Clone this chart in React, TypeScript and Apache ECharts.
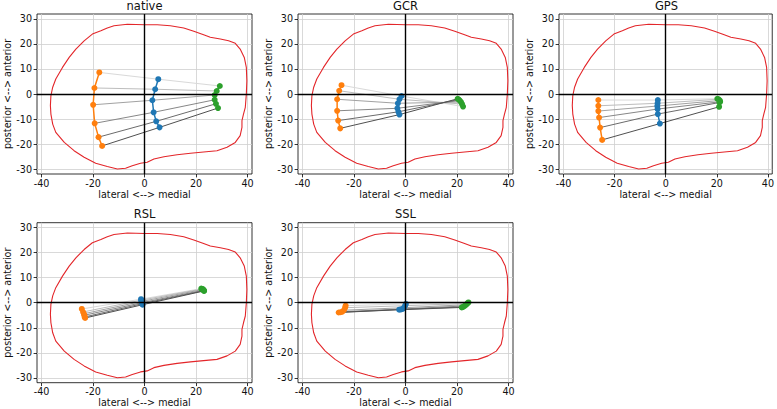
import React, { useEffect, useRef } from 'react';
import * as echarts from 'echarts';

type Pt = [number, number];

const panelTitles = ['native', 'GCR', 'GPS', 'RSL', 'SSL'];
const xTicks = [-40, -20, 0, 20, 40];
const yTicks = [-30, -20, -10, 0, 10, 20, 30];
const greyShades = ['#d9d9d9', '#bdbdbd', '#a2a2a2', '#878787', '#6b6b6b', '#505050'];

const outline: Pt[] = [
  [0, 27.6], [-6.7, 27.8], [-11.9, 27.2], [-14.5, 26.3], [-17.0, 25.2], [-20.3, 23.9],
  [-23.5, 21.2], [-26.7, 17.9], [-29.3, 14.6], [-31.9, 10.6], [-34.5, 6.0], [-35.7, 2.7],
  [-36.4, -0.7], [-36.6, -4.6], [-36.4, -8.0], [-35.7, -12.0], [-34.5, -15.3], [-31.2, -19.3],
  [-27.4, -22.6], [-23.5, -25.2], [-19.0, -27.6], [-14.5, -28.9], [-10.6, -29.9], [-7.4, -29.6],
  [-4.8, -28.6], [-1.6, -27.6], [1.0, -27.2], [3.6, -25.9], [7.5, -25.0], [12.6, -24.2],
  [17.8, -23.6], [22.9, -23.1], [28.1, -22.6], [32.0, -21.2], [35.2, -19.3], [37.1, -16.6],
  [37.8, -13.3], [37.8, -10.6], [38.4, -8.0], [39.1, -5.3], [39.5, 0], [39.7, 5.3],
  [39.5, 10.6], [38.7, 14.6], [37.1, 17.9], [35.2, 20.2], [32.6, 21.2], [29.4, 21.9],
  [25.5, 22.6], [22.9, 23.6], [19.1, 25.0], [15.2, 26.3], [10.0, 27.2], [4.9, 27.6], [0, 27.6],
];

const nativeOrange: Pt[] = [[-17.6, 8.6], [-19.5, 2.4], [-20.0, -4.3], [-19.4, -11.7], [-17.9, -17.2], [-16.5, -20.7]];
const nativeBlue: Pt[] = [[5.3, 5.9], [4.1, 1.9], [3.0, -2.5], [3.5, -7.3], [4.5, -10.9], [5.8, -13.3]];
const nativeGreen: Pt[] = [[29.2, 3.2], [28.0, 1.2], [27.2, -0.4], [27.2, -2.3], [27.7, -3.9], [28.5, -5.6]];

const gcrOrange: Pt[] = [[-24.9, 3.5], [-25.8, 1.3], [-26.6, -2.1], [-26.6, -6.7], [-26.2, -10.6], [-25.4, -13.7]];
const gcrBlue: Pt[] = [[-1.6, -0.8], [-2.4, -2.1], [-3.0, -3.7], [-3.2, -5.7], [-2.8, -7.1], [-2.4, -8.2]];
const gcrGreen: Pt[] = [[22.3, -5.0], [21.9, -4.0], [21.5, -3.2], [21.0, -2.6], [20.6, -2.2], [20.2, -1.9]];

const gpsOrange: Pt[] = [[-26.4, -2.4], [-26.4, -4.7], [-26.4, -6.8], [-26.1, -9.4], [-25.7, -13.4], [-24.9, -18.3]];
const gpsBlue: Pt[] = [[-3.1, -2.4], [-3.2, -3.7], [-3.3, -4.8], [-3.2, -6.0], [-3.1, -8.0], [-2.3, -11.8]];
const gpsGreen: Pt[] = [[20.2, -1.9], [20.7, -2.1], [21.2, -2.6], [21.3, -3.1], [21.0, -3.4], [20.9, -5.1]];

const rslOrange: Pt[] = [[-24.4, -2.5], [-23.9, -3.7], [-23.6, -4.4], [-23.4, -5.0], [-23.3, -5.7], [-23.1, -6.1]];
const rslBlue: Pt[] = [[-1.4, 1.4], [-1.3, 1.0], [-1.2, 0.5], [-1.0, 0.0], [-0.9, -0.4], [-0.8, -0.8]];
const rslGreen: Pt[] = [[22.0, 5.6], [22.4, 5.5], [22.7, 5.3], [22.9, 5.0], [23.0, 4.8], [23.1, 4.7]];

const sslOrange: Pt[] = [[-23.3, -1.2], [-23.5, -2.0], [-24.0, -3.0], [-24.6, -3.6], [-25.3, -3.8], [-26.0, -3.9]];
const sslBlue: Pt[] = [[0.1, -0.5], [-0.2, -1.2], [-0.6, -2.0], [-1.2, -2.5], [-1.8, -2.7], [-2.5, -2.8]];
const sslGreen: Pt[] = [[24.4, 0.1], [24.0, -0.3], [23.5, -0.8], [22.9, -1.3], [22.3, -1.7], [21.8, -1.9]];

const panels = [
  { orange: nativeOrange, blue: nativeBlue, green: nativeGreen },
  { orange: gcrOrange, blue: gcrBlue, green: gcrGreen },
  { orange: gpsOrange, blue: gpsBlue, green: gpsGreen },
  { orange: rslOrange, blue: rslBlue, green: rslGreen },
  { orange: sslOrange, blue: sslBlue, green: sslGreen },
];

const FONT = 'DejaVu Sans';
const gridLefts = [37, 298, 559, 37, 298];
const gridTops = [14, 14, 14, 222.7, 222.7];
const GW = 215;
const GH = 160;

export default function App() {
  const ref = useRef<HTMLDivElement>(null);
  useEffect(() => {
    if (!ref.current) return;
    const chart = echarts.init(ref.current, undefined, { renderer: 'svg' });
    const grid: any[] = [];
    const xAxis: any[] = [];
    const yAxis: any[] = [];
    const series: any[] = [];
    const graphic: any[] = [];
    panels.forEach((p, i) => {
      grid.push({
        left: gridLefts[i], top: gridTops[i], width: GW, height: GH,
        show: true, borderColor: '#000', borderWidth: 0.8, backgroundColor: 'transparent',
      });
      xAxis.push({
        type: 'value', gridIndex: i, min: -41.8, max: 41.7,
        axisLine: { show: false, onZero: false },
        axisTick: { show: true, customValues: xTicks, length: 3.4, lineStyle: { color: '#000', width: 0.8 } },
        axisLabel: { customValues: xTicks, fontSize: 9.6, color: '#111', fontFamily: FONT, margin: 4 },
        splitLine: { show: true, lineStyle: { color: '#cfcfcf', width: 0.8 } },
        name: 'lateral <--> medial', nameLocation: 'middle', nameGap: 15,
        nameTextStyle: { fontSize: 9.6, color: '#111', fontFamily: FONT },
      });
      yAxis.push({
        type: 'value', gridIndex: i, min: -31.9, max: 31.9,
        axisLine: { show: false, onZero: false },
        axisTick: { show: true, customValues: yTicks, length: 3.4, lineStyle: { color: '#000', width: 0.8 } },
        axisLabel: { customValues: yTicks, fontSize: 9.6, color: '#111', fontFamily: FONT, margin: 5 },
        splitLine: { show: true, lineStyle: { color: '#cfcfcf', width: 0.8 } },
        name: 'posterior <--> anterior', nameLocation: 'middle', nameGap: 25,
        nameTextStyle: { fontSize: 9.6, color: '#111', fontFamily: FONT },
      });
      series.push({
        type: 'line', xAxisIndex: i, yAxisIndex: i, data: outline, symbol: 'none',
        lineStyle: { color: '#e3262a', width: 1.1 }, z: 2, silent: true,
        markLine: {
          silent: true, symbol: ['none', 'none'], label: { show: false },
          lineStyle: { color: '#000', width: 1.4, type: 'solid' },
          data: [{ xAxis: 0 }, { yAxis: 0 }],
        },
      });
      p.orange.forEach((o, k) => {
        series.push({
          type: 'line', xAxisIndex: i, yAxisIndex: i, data: [o, p.blue[k], p.green[k]],
          symbol: 'none', lineStyle: { color: greyShades[k], width: 1 }, z: 3, silent: true,
        });
      });
      [['#ff7f0e', p.orange], ['#1f77b4', p.blue], ['#2ca02c', p.green]].forEach(([c, d]) => {
        series.push({
          type: 'line', xAxisIndex: i, yAxisIndex: i, data: d, symbol: 'circle', symbolSize: 6,
          itemStyle: { color: c }, lineStyle: { color: c, width: 1.5 }, z: 4, silent: true,
        });
      });
      graphic.push({
        type: 'text', x: gridLefts[i] + GW / 2, y: gridTops[i] - 8.5,
        style: { text: panelTitles[i], fontSize: 11.5, fontFamily: FONT, fill: '#111', align: 'center', verticalAlign: 'middle' },
      });
    });
    chart.setOption({ animation: false, grid, xAxis, yAxis, series, graphic });
    return () => chart.dispose();
  }, []);
  return <div ref={ref} style={{ position: 'fixed', left: 0, top: 0, width: 777, height: 409, background: '#fff' }} />;
}
